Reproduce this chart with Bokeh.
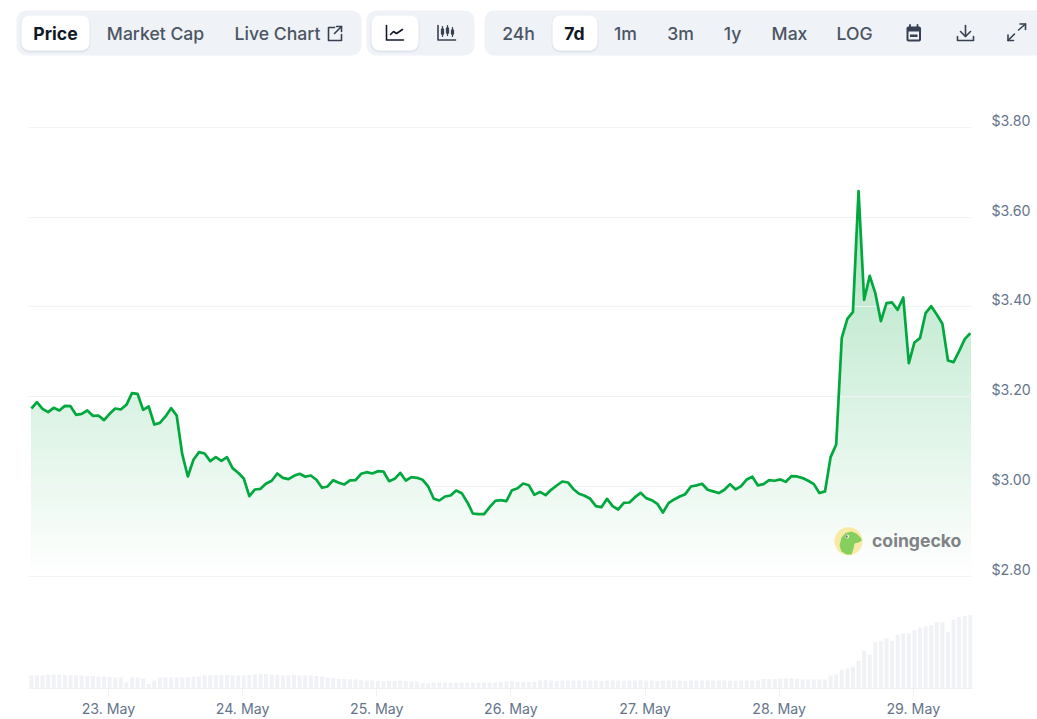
import numpy as np
from bokeh.embed import file_html
from bokeh.layouts import column
from bokeh.models import FixedTicker, Grid, LinearAxis, Range1d
from bokeh.core.properties import value
from bokeh.plotting import figure
from bokeh.resources import INLINE

# ---------- data ----------
first_hour = -13.8  # hours relative to 23 May 00:00
price = [
    3.1735, 3.1876, 3.1727, 3.1653, 3.1750, 3.1690, 3.1794, 3.1787, 3.1594, 3.1616,
    3.1690, 3.1571, 3.1579, 3.1475, 3.1616, 3.1735, 3.1713, 3.1817, 3.2077, 3.2062,
    3.1705, 3.1779, 3.1378, 3.1415, 3.1557, 3.1742, 3.1579, 3.0710, 3.0219, 3.0591,
    3.0761, 3.0732, 3.0561, 3.0650, 3.0568, 3.0650, 3.0405, 3.0301, 3.0175, 2.9781,
    2.9929, 2.9944, 3.0063, 3.0123, 3.0286, 3.0189, 3.0160, 3.0234, 3.0279, 3.0212,
    3.0241, 3.0145, 2.9967, 2.9996, 3.0137, 3.0078, 3.0041, 3.0130, 3.0137, 3.0279,
    3.0315, 3.0285, 3.0337, 3.0330, 3.0114, 3.0166, 3.0300, 3.0129, 3.0204, 3.0189,
    3.0144, 2.9996, 2.9721, 2.9683, 2.9773, 2.9795, 2.9906, 2.9847, 2.9646, 2.9394,
    2.9379, 2.9379, 2.9535, 2.9676, 2.9691, 2.9669, 2.9914, 2.9958, 3.0062, 3.0025,
    2.9810, 2.9877, 2.9802, 2.9921, 3.0018, 3.0107, 3.0085, 2.9936, 2.9832, 2.9788,
    2.9721, 2.9557, 2.9535, 2.9721, 2.9557, 2.9483, 2.9631, 2.9639, 2.9758, 2.9854,
    2.9736, 2.9691, 2.9609, 2.9416, 2.9624, 2.9706, 2.9773, 2.9825, 2.9996, 3.0020,
    3.0057, 2.9923, 2.9886, 2.9849, 2.9923, 3.0049, 2.9930, 3.0005, 3.0153, 3.0213,
    3.0020, 3.0049, 3.0139, 3.0124, 3.0153, 3.0101, 3.0228, 3.0220, 3.0183, 3.0124,
    3.0049, 2.9849, 2.9886, 3.0651, 3.0933, 3.3311, 3.3735, 3.3891, 3.6580, 3.4158,
    3.4693, 3.4307, 3.3683, 3.4084, 3.4099, 3.3935, 3.4210, 3.2746, 3.3207, 3.3304,
    3.3861, 3.4017, 3.3831, 3.3623, 3.2806, 3.2769, 3.3014, 3.3281, 3.3415,
]
volume = [
    13, 13, 13, 14, 14, 14, 13.5, 13.5, 13, 13, 12.5, 12.5, 12, 12, 11.5, 11, 11, 6, 11, 11,
    10, 4.5, 8, 11, 11, 11, 11, 11, 11, 12, 12, 13, 13, 13.5, 13.5, 13.5, 13, 13, 13, 13.5,
    14, 14.5, 14.5, 14, 13.5, 13, 13, 13.5, 13, 13, 13, 12.5, 12, 11, 10.5, 9.5, 9.5, 9, 9, 8.5,
    8, 8, 7.5, 7, 7.5, 7.5, 8, 7.5, 7, 7, 5.5, 5, 6, 6, 6, 6, 6, 6, 6, 6,
    6, 6, 6, 6, 6.5, 7, 7.5, 6.5, 6.5, 6.5, 6.5, 8, 8.5, 8, 7.5, 8, 8, 8, 8, 8,
    8, 8, 7.5, 8, 8, 8, 7.5, 8, 8, 8.5, 8, 8, 7.5, 8, 8, 8, 8, 7.5, 8, 8,
    8, 8, 8, 8, 8, 8, 7.5, 8, 8, 8, 8, 9.5, 9.5, 9.5, 10, 10, 10, 9.5, 9, 9,
    9, 9, 9, 12.7, 14, 18.7, 20, 21.7, 27.7, 37.7, 33.7, 46.3, 47.3, 50.3, 47.7, 53.7, 55, 55, 58.3, 61,
    62.3, 63.3, 66.3, 66.3, 56.3, 68.7, 71.3, 72.7, 73.7,
]
price_ticks = [2.8, 3.0, 3.2, 3.4, 3.6, 3.8]
price_tick_labels = ["$2.80", "$3.00", "$3.20", "$3.40", "$3.60", "$3.80"]
day_ticks = [0, 24, 48, 72, 96, 120, 144]
day_labels = ["23. May", "24. May", "25. May", "26. May", "27. May", "28. May", "29. May"]

# ---------- style ----------
GREEN = (0, 168, 62)
LINE = "#00a83e"
PANEL = "#eff2f7"
DARK = "#111827"
MUTED = "#4b5563"
ICON = "#374151"
FONT = "Inter"
AXIS_TEXT = "#64748b"


def rrect(x0, y0, x1, y1, r):
    t = np.linspace(0, np.pi / 2, 8)
    xs = np.concatenate([x1 - r + r * np.sin(t), x1 - r + r * np.cos(t), x0 + r - r * np.sin(t), x0 + r - r * np.cos(t)])
    ys = np.concatenate([y0 + r - r * np.cos(t), y1 - r + r * np.sin(t), y1 - r + r * np.cos(t), y0 + r - r * np.sin(t)])
    return xs, ys


# ---------- toolbar (page-pixel coordinates) ----------
bar = figure(width=1037, height=60, x_range=Range1d(0, 1037), y_range=Range1d(60, 0),
             output_backend="svg", toolbar_location=None, x_axis_location=None, y_axis_location=None,
             outline_line_color=None, min_border=0, frame_align=False)
bar.grid.visible = False

for x0, x1 in [(16, 361), (366, 474), (484, 1046)]:
    xs, ys = rrect(x0, 10, x1, 55, 10)
    bar.patch(xs, ys, fill_color=PANEL, line_color=None)
for x0, x1 in [(21, 89), (371, 418), (552, 597)]:
    xs, ys = rrect(x0 - 1, 15, x1 + 1, 52, 9)
    bar.patch(xs, ys, fill_color="#94a3b8", fill_alpha=0.16, line_color=None)
    xs, ys = rrect(x0, 15, x1, 50, 8)
    bar.patch(xs, ys, fill_color="white", line_color=None)

labels = [
    ("Price", 55, DARK, "bold"), ("Market Cap", 155, MUTED, "normal"), ("Live Chart", 277, MUTED, "normal"),
    ("24h", 518, MUTED, "normal"), ("7d", 574, DARK, "bold"), ("1m", 625, MUTED, "normal"),
    ("3m", 680, MUTED, "normal"), ("1y", 732, MUTED, "normal"), ("Max", 789, MUTED, "normal"),
    ("LOG", 854, MUTED, "normal"),
]
for txt, x, col, style in labels:
    bar.text([x], [32.5], text=[txt], text_font=value("Inter Medium" if style == "normal" else FONT),
             text_font_size="17.6px", text_color=col, text_font_style=style,
             text_align="center", text_baseline="middle")


def stroke(points, color=ICON, width=1.6):
    bar.line([p[0] for p in points], [p[1] for p in points], line_color=color, line_width=width,
             line_cap="round", line_join="round")


# external-link icon
stroke([(334, 27), (328, 27), (328, 40), (341, 40), (341, 34)])
stroke([(334, 33), (341, 26)])
stroke([(336, 26), (341, 26), (341, 31)])
# line-chart icon
stroke([(386, 25), (386, 39.5), (403, 39.5)], DARK)
stroke([(390, 34), (393, 31), (396, 33), (402, 29)], DARK)
# candle icon
stroke([(437.5, 25), (437.5, 39.5), (455, 39.5)], ICON)
for cx, top, bot in [(442, 26, 36), (447, 25, 35), (452, 27, 36)]:
    stroke([(cx, top), (cx, bot)], ICON, 1.2)
    stroke([(cx, top + 3), (cx, bot - 3)], ICON, 3.2)
# calendar icon
xs, ys = rrect(906, 26, 920.5, 41, 2)
bar.patch(xs, ys, fill_color=ICON, line_color=None)
bar.quad(left=[908], right=[918.5], top=[31], bottom=[39], fill_color=PANEL, line_color=None)
bar.quad(left=[909.5], right=[917], top=[34], bottom=[36.5], fill_color=ICON, line_color=None)
stroke([(909.5, 24.5), (909.5, 27)], ICON, 1.8)
stroke([(917, 24.5), (917, 27)], ICON, 1.8)
# download icon
stroke([(965, 25), (965, 36)])
stroke([(960, 31), (965, 36), (970, 31)])
stroke([(957, 36), (957, 40), (973, 40), (973, 36)])
# expand icon
stroke([(1007.5, 40), (1014, 33.5)])
stroke([(1007.5, 34.5), (1007.5, 40), (1013, 40)])
stroke([(1018, 29.5), (1025, 23.5)])
stroke([(1019.5, 23.5), (1025, 23.5), (1025, 29)])

# ---------- chart ----------
PX_PER_HOUR = 5.589
PX_PER_USD = 448.5
LABEL_SHIFT = 7 / PX_PER_USD

x_start = (28 - 108) / PX_PER_HOUR
x_end = (972 - 108) / PX_PER_HOUR
y_start = 2.8 - (688 - 575.5) / PX_PER_USD
y_end = 3.8 + (127 - 60) / PX_PER_USD

p = figure(width=1037, height=659, frame_width=944, frame_height=628,
           x_range=Range1d(x_start, x_end), y_range=Range1d(y_start, y_end),
           output_backend="svg", toolbar_location=None, y_axis_location=None,
           outline_line_color=None, min_border_left=28, min_border_right=65,
           min_border_top=0, min_border_bottom=31, frame_align=False)
p.xgrid.visible = False
p.ygrid.visible = False
p.extra_y_ranges["volume"] = Range1d(0, 628)
p.extra_y_ranges["labels"] = Range1d(y_start - LABEL_SHIFT, y_end - LABEL_SHIFT)

grid = Grid(dimension=1, ticker=FixedTicker(ticks=price_ticks), grid_line_color="#f2f3f7", grid_line_width=1, level="glyph")
p.add_layout(grid)

xa = p.xaxis[0]
xa.ticker = FixedTicker(ticks=day_ticks)
xa.major_label_overrides = dict(zip(day_ticks, day_labels))
xa.axis_line_color = "#eff1f5"
xa.major_tick_line_color = "#eff1f5"
xa.major_tick_in = 0
xa.major_tick_out = 8
xa.major_label_standoff = 3
xa.major_label_text_font = FONT
xa.major_label_text_font_size = "14.2px"
xa.major_label_text_color = AXIS_TEXT

ya = LinearAxis(y_range_name="labels", ticker=FixedTicker(ticks=price_ticks),
                major_label_overrides=dict(zip(price_ticks, price_tick_labels)),
                axis_line_color=None, major_tick_line_color=None, minor_tick_line_color=None,
                major_label_standoff=13, major_label_text_font=FONT,
                major_label_text_font_size="14.2px", major_label_text_color=AXIS_TEXT)
p.add_layout(ya, "right")

hours = first_hour + np.arange(len(price))

p.vbar(x=hours, top=volume, bottom=0, width=0.72, y_range_name="volume",
       fill_color="#f0f2f6", line_color=None, level="underlay")

# vertical gradient under the line: nested opaque boxes, then white above the price line
tops = np.arange(3.68, 2.80, -0.0045)
alphas = 0.372 * (tops - 2.8)
cols = ["#%02x%02x%02x" % tuple(int(round(255 + (g - 255) * a)) for g in GREEN) for a in alphas]
p.quad(left=hours[0], right=hours[-1], top=tops, bottom=2.8, fill_color=cols, line_color=None, level="underlay")
mask_x = np.r_[hours[0] - 1, hours, hours[-1] + 1]
mask_y = np.r_[price[0], price, price[-1]]
p.varea(x=mask_x, y1=mask_y, y2=y_end, fill_color="white", level="underlay")

p.line(hours, price, line_color=LINE, line_width=2.7, line_join="round", level="annotation")


# CoinGecko watermark, placed in page pixels
def hx(px):
    return (np.asarray(px, dtype=float) - 108) / PX_PER_HOUR


def vy(py):
    return 2.8 + (575.5 - np.asarray(py, dtype=float)) / PX_PER_USD


t = np.linspace(0, 2 * np.pi, 60)
p.patch(hx(848 + 14 * np.cos(t)), vy(540.7 + 14 * np.sin(t)), fill_color="#f8eaa5", line_color=None, level="annotation")
blob_x = [841, 839, 841, 845, 851, 856, 860, 861.5, 858, 854, 853, 851, 846]
blob_y = [551, 545, 537, 532.5, 531, 533, 537, 540, 542, 543, 548, 554, 554]
p.patch(hx(blob_x), vy(blob_y), fill_color="#86cf5e", line_color=None, level="annotation")
p.patch(hx(846.7 + 1.9 * np.cos(t)), vy(536 + 1.9 * np.sin(t)), fill_color="#f4f4f0", line_color=None, level="annotation")
p.patch(hx(846.2 + 0.9 * np.cos(t)), vy(536 + 1.2 * np.sin(t)), fill_color="#5f6b5a", line_color=None, level="annotation")
p.text(hx([871.5]), vy([539.5]), text=["coingecko"], text_font=value(FONT), text_font_size="17.6px",
       text_font_style="bold", text_color="#7f8386", text_align="left", text_baseline="middle", level="annotation")

layout = column(bar, p, spacing=0)
open("out.html", "w").write(file_html(layout, INLINE))
